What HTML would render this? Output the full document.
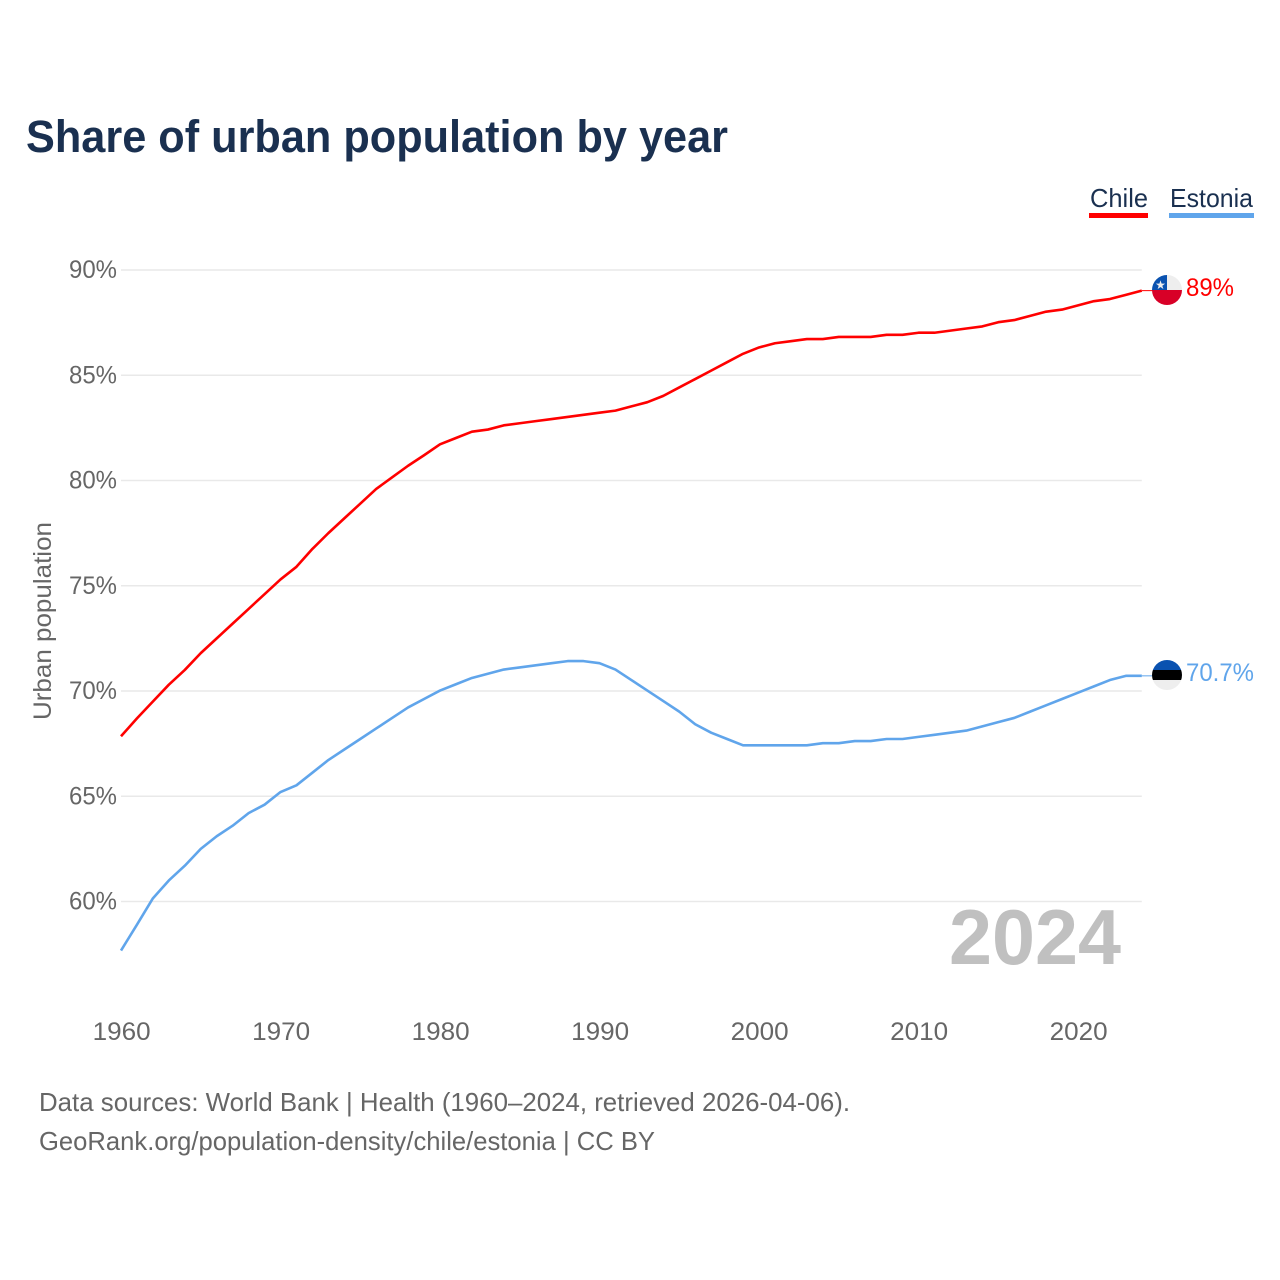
<!DOCTYPE html>
<html lang="en">
<head>
<meta charset="utf-8">
<title>Share of urban population by year</title>
<style>
html,body{margin:0;padding:0;background:#fff;width:1280px;height:1280px;overflow:hidden}
svg{display:block}
text{font-family:"Liberation Sans",sans-serif}
</style>
</head>
<body>
<svg id="chart" xmlns="http://www.w3.org/2000/svg" width="1280" height="1280" viewBox="0 0 1280 1280">
  <defs>
    <clipPath id="clip-chile"><circle cx="1167" cy="290" r="15"/></clipPath>
    <clipPath id="clip-estonia"><circle cx="1167" cy="675" r="15"/></clipPath>
  </defs>
  <rect width="1280" height="1280" fill="#fff"/>
  <text x="26" y="152" font-size="45" font-weight="700" fill="#1a3050" textLength="702" lengthAdjust="spacingAndGlyphs">Share of urban population by year</text>

  <g>
    <text x="1090" y="207" font-size="26" fill="#1a3050" textLength="58" lengthAdjust="spacingAndGlyphs">Chile</text>
    <rect x="1089" y="213" width="59" height="5" fill="#ff0000"/>
  </g>
  <g>
    <text x="1170" y="207" font-size="26" fill="#1a3050" textLength="83" lengthAdjust="spacingAndGlyphs">Estonia</text>
    <rect x="1169" y="213" width="85" height="5" fill="#60a5eb"/>
  </g>

  <g id="grid"></g>
  <g id="yticks"></g>
  <g id="xticks"></g>
  <text transform="translate(51,621) rotate(-90)" text-anchor="middle" font-size="25" fill="#666" textLength="198" lengthAdjust="spacingAndGlyphs">Urban population</text>
  <text x="949" y="964" font-size="78" font-weight="700" fill="#c0c0c0" textLength="172" lengthAdjust="spacingAndGlyphs">2024</text>

  <g id="series"></g>

  <g clip-path="url(#clip-chile)">
    <rect x="1152" y="275" width="30" height="15" fill="#eeeeee"/>
    <rect x="1152" y="275" width="15" height="15" fill="#0a52b0"/>
    <rect x="1152" y="290" width="30" height="15" fill="#d80027"/>
    <text x="1160.5" y="289" font-size="12" fill="#eee" text-anchor="middle">★</text>
  </g>
  <g clip-path="url(#clip-estonia)">
    <rect x="1152" y="660" width="30" height="10" fill="#0a52b0"/>
    <rect x="1152" y="670" width="30" height="10" fill="#000"/>
    <rect x="1152" y="680" width="30" height="10" fill="#eeeeee"/>
  </g>
  <text id="label-chile" x="1186" y="296" font-size="25" fill="#ff0000" textLength="48" lengthAdjust="spacingAndGlyphs"></text>
  <text id="label-estonia" x="1186" y="681" font-size="25" fill="#60a5eb" textLength="68" lengthAdjust="spacingAndGlyphs"></text>

  <text x="39" y="1111" font-size="26" fill="#666" textLength="811" lengthAdjust="spacingAndGlyphs">Data sources: World Bank | Health (1960–2024, retrieved 2026-04-06).</text>
  <text x="39" y="1150" font-size="26" fill="#666" textLength="616" lengthAdjust="spacingAndGlyphs">GeoRank.org/population-density/chile/estonia | CC BY</text>
</svg>
<script>
const startYear = 1960;
const yTickValues = [60, 65, 70, 75, 80, 85, 90];
const xTickValues = [1960, 1970, 1980, 1990, 2000, 2010, 2020];
const chileValues = [67.85,68.7,69.5,70.3,71.0,71.8,72.5,73.2,73.9,74.6,75.3,75.9,76.75,77.5,78.2,78.9,79.6,80.15,80.7,81.2,81.72,82.02,82.32,82.42,82.62,82.72,82.82,82.92,83.02,83.12,83.22,83.32,83.52,83.72,84.02,84.42,84.82,85.22,85.62,86.02,86.32,86.52,86.62,86.72,86.72,86.82,86.82,86.82,86.92,86.92,87.02,87.02,87.12,87.22,87.32,87.52,87.62,87.82,88.02,88.12,88.32,88.52,88.62,88.82,89.02];
const estoniaValues = [57.67,58.9,60.15,61.0,61.7,62.5,63.1,63.6,64.2,64.6,65.2,65.52,66.12,66.72,67.22,67.72,68.22,68.72,69.22,69.62,70.02,70.32,70.62,70.82,71.02,71.12,71.22,71.32,71.42,71.42,71.32,71.02,70.52,70.02,69.52,69.02,68.42,68.02,67.72,67.42,67.42,67.42,67.42,67.42,67.52,67.52,67.62,67.62,67.72,67.72,67.82,67.92,68.02,68.12,68.32,68.52,68.72,69.02,69.32,69.62,69.92,70.22,70.52,70.72,70.72];
const chileLabel = "89%";
const estoniaLabel = "70.7%";

const NS = "http://www.w3.org/2000/svg";
function xScale(year){ return 121 + (year - 1960) * 15.95; }
function yScale(v){ return 270 + (90 - v) * 21.05; }

const grid = document.getElementById("grid");
const yticks = document.getElementById("yticks");
yTickValues.forEach(function(v){
  const line = document.createElementNS(NS, "line");
  
  
  line.setAttribute("x1", 121);
  line.setAttribute("x2", xScale(2024));
  line.setAttribute("y1", yScale(v));
  line.setAttribute("y2", yScale(v));
  line.setAttribute("stroke", "#e9e9e9");
  line.setAttribute("stroke-width", "1.6");
  grid.appendChild(line);
  const t = document.createElementNS(NS, "text");
  
  
  t.setAttribute("x", 117);
  t.setAttribute("y", yScale(v) + 8);
  t.setAttribute("text-anchor", "end");
  t.setAttribute("font-size", "25");
  t.setAttribute("fill", "#666");
  t.setAttribute("textLength", "48");
  t.setAttribute("lengthAdjust", "spacingAndGlyphs");
  t.textContent = v + "%";
  yticks.appendChild(t);
});

const xticks = document.getElementById("xticks");
xTickValues.forEach(function(y){
  const t = document.createElementNS(NS, "text");
  
  
  t.setAttribute("x", xScale(y) + 0.7);
  t.setAttribute("y", 1040);
  t.setAttribute("text-anchor", "middle");
  t.setAttribute("font-size", "25");
  t.setAttribute("fill", "#666");
  t.setAttribute("textLength", "58");
  t.setAttribute("lengthAdjust", "spacingAndGlyphs");
  t.textContent = y;
  xticks.appendChild(t);
});

const seriesGroup = document.getElementById("series");
function pointsFor(values){
  return values.map(function(v, i){
    return xScale(startYear + i).toFixed(2) + "," + yScale(v).toFixed(2);
  }).join(" ");
}
function drawSeries(values, color, name){
  const line = document.createElementNS(NS, "polyline");
  
  
  line.setAttribute("points", pointsFor(values));
  line.setAttribute("fill", "none");
  line.setAttribute("stroke", color);
  line.setAttribute("stroke-width", "2.6");
  line.setAttribute("stroke-linejoin", "round");
  seriesGroup.appendChild(line);
  const last = values[values.length - 1];
  const lead = document.createElementNS(NS, "line");
  
  
  lead.setAttribute("x1", xScale(startYear + values.length - 1));
  lead.setAttribute("x2", 1153);
  lead.setAttribute("y1", yScale(last));
  lead.setAttribute("y2", yScale(last));
  lead.setAttribute("stroke", color);
  lead.setAttribute("stroke-width", "1");
  seriesGroup.appendChild(lead);
}
drawSeries(chileValues, "#ff0000", "line-chile");
drawSeries(estoniaValues, "#60a5eb", "line-estonia");

document.getElementById("label-chile").textContent = chileLabel;
document.getElementById("label-estonia").textContent = estoniaLabel;
</script>
</body>
</html>
